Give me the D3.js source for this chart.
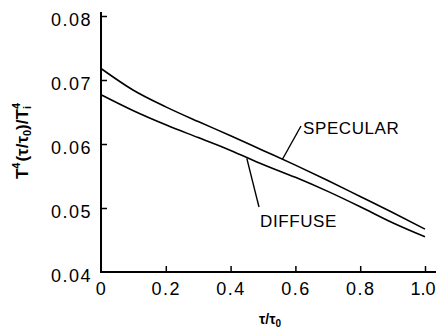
<!DOCTYPE html>
<html>
<head>
<meta charset="utf-8">
<script src="https://cdn.jsdelivr.net/npm/d3@7"></script>
<style>
  html, body { margin: 0; padding: 0; background: #fff; }
  svg { display: block; }
  text { font-family: "Liberation Sans", Arial, Helvetica, sans-serif; fill: #000; }
</style>
</head>
<body>
<script>
// ---- data ----
const tau = [0, 0.1, 0.2, 0.3, 0.4, 0.5, 0.6, 0.7, 0.8, 0.9, 1.0];
const specular = [0.0718, 0.0684, 0.0658, 0.0635, 0.0613, 0.0590, 0.0567, 0.0543, 0.0518, 0.0493, 0.0467];
const diffuse  = [0.0677, 0.0652, 0.0630, 0.0610, 0.0590, 0.0568, 0.0548, 0.0526, 0.0502, 0.0477, 0.0455];
const xTicks = [0, 0.2, 0.4, 0.6, 0.8, 1.0];
const xTickLabels = ["0", "0.2", "0.4", "0.6", "0.8", "1.0"];
const yTicks = [0.04, 0.05, 0.06, 0.07, 0.08];
const yTickLabels = ["0.04", "0.05", "0.06", "0.07", "0.08"];
const seriesLabels = ["SPECULAR", "DIFFUSE"];

const W = 436, H = 329;
const svg = d3.select("body").append("svg").attr("width", W).attr("height", H);

const x = d3.scaleLinear().domain([0, 1]).range([101, 425]);
const y = d3.scaleLinear().domain([0.04, 0.08]).range([272, 16]);

// axes lines
svg.append("line").attr("x1", x(0)).attr("x2", x(0)).attr("y1", 12).attr("y2", y(0.04))
  .attr("stroke", "#000").attr("stroke-width", 2);
svg.append("line").attr("x1", x(0) - 1).attr("x2", 436).attr("y1", y(0.04)).attr("y2", y(0.04))
  .attr("stroke", "#000").attr("stroke-width", 2);

// y axis
const yAxis = d3.axisLeft(y).tickValues(yTicks).tickSize(-6).tickPadding(9)
  .tickFormat((d, i) => yTickLabels[i]);
const gy = svg.append("g").attr("transform", `translate(${x(0)},0)`).call(yAxis);
gy.select(".domain").remove();
gy.selectAll(".tick line").attr("stroke", "#000").attr("stroke-width", 1.5);
gy.selectAll(".tick text").attr("font-size", 18).attr("letter-spacing", 1.5)
  .attr("dy", "0.5em").style("font-family", "'Liberation Sans', Arial, sans-serif");
gy.selectAll(".tick").filter(d => d === 0.04).select("line").remove();

// x axis
const xAxis = d3.axisBottom(x).tickValues(xTicks).tickSize(-6).tickPadding(10)
  .tickFormat((d, i) => xTickLabels[i]);
const gx = svg.append("g").attr("transform", `translate(0,${y(0.04)})`).call(xAxis);
gx.select(".domain").remove();
gx.selectAll(".tick line").attr("stroke", "#000").attr("stroke-width", 1.5);
gx.selectAll(".tick text").attr("font-size", 18).attr("letter-spacing", 1.5)
  .style("font-family", "'Liberation Sans', Arial, sans-serif");
gx.selectAll(".tick").filter(d => d === 0).select("line").remove();
gx.selectAll(".tick").filter(d => d === 1).select("text")
  .attr("letter-spacing", 0).attr("text-anchor", "end").attr("x", 10);

// curves
const line = d3.line().x((d, i) => x(tau[i])).y(d => y(d)).curve(d3.curveMonotoneX);
[specular, diffuse].forEach(s => {
  svg.append("path").datum(s).attr("d", line)
    .attr("fill", "none").attr("stroke", "#000").attr("stroke-width", 1.6);
});

// series labels with leader lines
svg.append("text").attr("x", 303).attr("y", 134).attr("font-size", 17).attr("letter-spacing", 0.6)
  .text(seriesLabels[0]);
svg.append("line").attr("x1", 301).attr("y1", 126).attr("x2", x(0.56)).attr("y2", y(specular[5] + (specular[6]-specular[5])*0.6) )
  .attr("stroke", "#000").attr("stroke-width", 1.4);
svg.append("text").attr("x", 260).attr("y", 227).attr("font-size", 17).attr("letter-spacing", 0.6)
  .text(seriesLabels[1]);
svg.append("line").attr("x1", 259).attr("y1", 207).attr("x2", x(0.45)).attr("y2", y(diffuse[4] + (diffuse[5]-diffuse[4])*0.5) + 1)
  .attr("stroke", "#000").attr("stroke-width", 1.4);

// x title
const xt = svg.append("text").attr("x", 270).attr("y", 324).attr("text-anchor", "middle")
  .attr("font-size", 14).attr("font-weight", "bold");
xt.append("tspan").text("τ/τ");
xt.append("tspan").attr("font-size", 10).attr("dy", 3).text("0");

// y title
const yt = svg.append("text").attr("transform", "translate(28,141) rotate(-90)")
  .attr("text-anchor", "middle").attr("font-size", 17).attr("font-weight", "bold");
yt.append("tspan").text("T");
yt.append("tspan").attr("font-size", 11).attr("dy", -8).text("4");
yt.append("tspan").attr("dy", 8).attr("dx", 1).text("(τ/τ");
yt.append("tspan").attr("font-size", 11).attr("dy", 3).text("0");
yt.append("tspan").attr("dy", -3).text(")/T");
yt.append("tspan").attr("font-size", 11).attr("dy", 3).text("i");
yt.append("tspan").attr("font-size", 11).attr("dy", -11).attr("dx", -3).text("4");
</script>
</body>
</html>
